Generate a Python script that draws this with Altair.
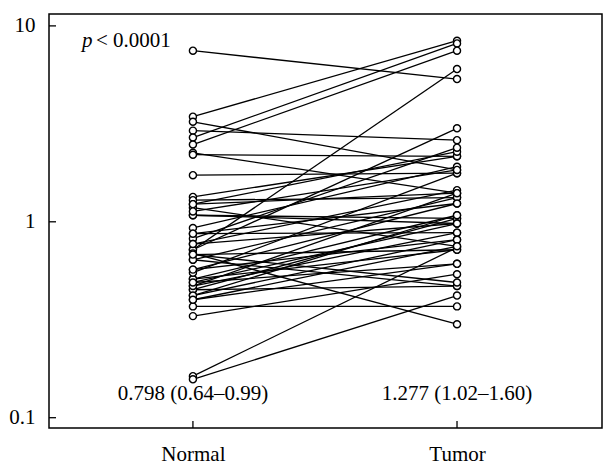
import altair as alt
import pandas as pd

groups = ["Normal", "Tumor"]
normal = [7.47, 3.44, 3.24, 2.92, 2.69, 2.48, 2.25, 2.20, 1.73, 1.34, 1.29, 1.23,
          1.18, 1.08, 0.93, 0.87, 0.82, 0.77, 0.72, 0.72, 0.68, 0.69, 0.64, 0.57,
          0.51, 0.49, 0.47, 0.45, 0.42, 0.40, 0.37, 0.33, 0.163, 0.157, 0.45, 0.47,
          0.51, 0.55, 0.64, 0.77, 0.87, 1.23, 0.42, 0.49, 0.57, 1.08, 0.68, 0.40, 1.13]
tumor = [5.35, 8.40, 1.84, 2.61, 8.14, 7.47, 1.40, 2.16, 1.77, 2.16, 1.33, 2.28,
         0.75, 1.04, 1.91, 0.88, 2.39, 1.45, 6.02, 3.00, 0.72, 0.30, 0.47, 1.24,
         1.08, 0.98, 1.40, 0.47, 0.81, 0.61, 0.37, 0.54, 0.74, 0.42, 1.04, 0.88,
         0.72, 1.77, 1.33, 0.98, 1.24, 1.40, 1.08, 0.61, 0.81, 0.98, 0.49, 0.75, 1.84]
summary = ["0.798 (0.64\u20130.99)", "1.277 (1.02\u20131.60)"]
y_ticks = [0.1, 1, 10]
p_text = ["p", "< 0.0001"]

rows = []
for i, (n, t) in enumerate(zip(normal, tumor)):
    rows.append({"pair": i, "pos": 0, "value": n})
    rows.append({"pair": i, "pos": 1, "value": t})
df = pd.DataFrame(rows)

W, H = 553, 414
FONT = "Liberation Serif"
FS = 21
xs = alt.Scale(domain=[-0.545, 1.549], nice=False, zero=False)
ys = alt.Scale(type="log", domain=[0.0886, 11.5], nice=False)

label_expr = f"datum.value == 0 ? '{groups[0]}' : '{groups[1]}'"

X_AX = alt.Axis(
    values=[0, 1], labelExpr=label_expr, title=None, ticks=False, domain=False,
    grid=False, labelPadding=32, labelBaseline="alphabetic", labelFontSize=FS,
    labelFont=FONT, labelColor="black")
Y_AX = alt.Axis(
    values=y_ticks, title=None, ticks=False, domain=False, grid=False,
    labelPadding=14, labelFontSize=FS, labelFont=FONT, labelColor="black",
    format="~g")

lines = alt.Chart(df).mark_line(color="black", strokeWidth=1.3).encode(
    x=alt.X("pos:Q", scale=xs, axis=X_AX),
    y=alt.Y("value:Q", scale=ys, axis=Y_AX),
    detail="pair:N",
    order="pos:Q",
)

points = alt.Chart(df).mark_circle(
    fill="white", stroke="black", strokeWidth=1.4, opacity=1, size=50
).encode(
    x=alt.X("pos:Q", scale=xs, axis=X_AX),
    y=alt.Y("value:Q", scale=ys, axis=Y_AX),
)

yt = alt.Chart(pd.DataFrame({"value": y_ticks})).mark_rule(color="black", strokeWidth=1.3).encode(
    y=alt.Y("value:Q", scale=ys, axis=Y_AX), x=alt.value(0), x2=alt.value(7)
)
xt = alt.Chart(pd.DataFrame({"pos": [0, 1]})).mark_rule(color="black", strokeWidth=1.3).encode(
    x=alt.X("pos:Q", scale=xs, axis=X_AX), y=alt.value(H), y2=alt.value(H - 7)
)

summ = alt.Chart(pd.DataFrame({"pos": [0, 1], "label": summary})).mark_text(
    font=FONT, fontSize=FS, baseline="alphabetic", align="center", color="black"
).encode(x=alt.X("pos:Q", scale=xs, axis=X_AX), y=alt.value(386), text="label:N")

p1 = alt.Chart(pd.DataFrame({"t": [p_text[0]]})).mark_text(
    font=FONT, fontSize=FS, fontStyle="italic", baseline="alphabetic", align="left", color="black"
).encode(x=alt.value(33), y=alt.value(33), text="t:N")
p2 = alt.Chart(pd.DataFrame({"t": [p_text[1]]})).mark_text(
    font=FONT, fontSize=FS, baseline="alphabetic", align="left", color="black"
).encode(x=alt.value(47), y=alt.value(33), text="t:N")

chart = alt.layer(lines, points, yt, xt, summ, p1, p2).properties(
    width=W, height=H,
    autosize=alt.AutoSizeParams(type="none"),
    padding={"left": 41, "top": 6, "right": 4, "bottom": 39},
).configure_view(stroke="black", strokeWidth=1.5)

chart.save("out.html", embed_options={"renderer": "svg", "actions": False})
